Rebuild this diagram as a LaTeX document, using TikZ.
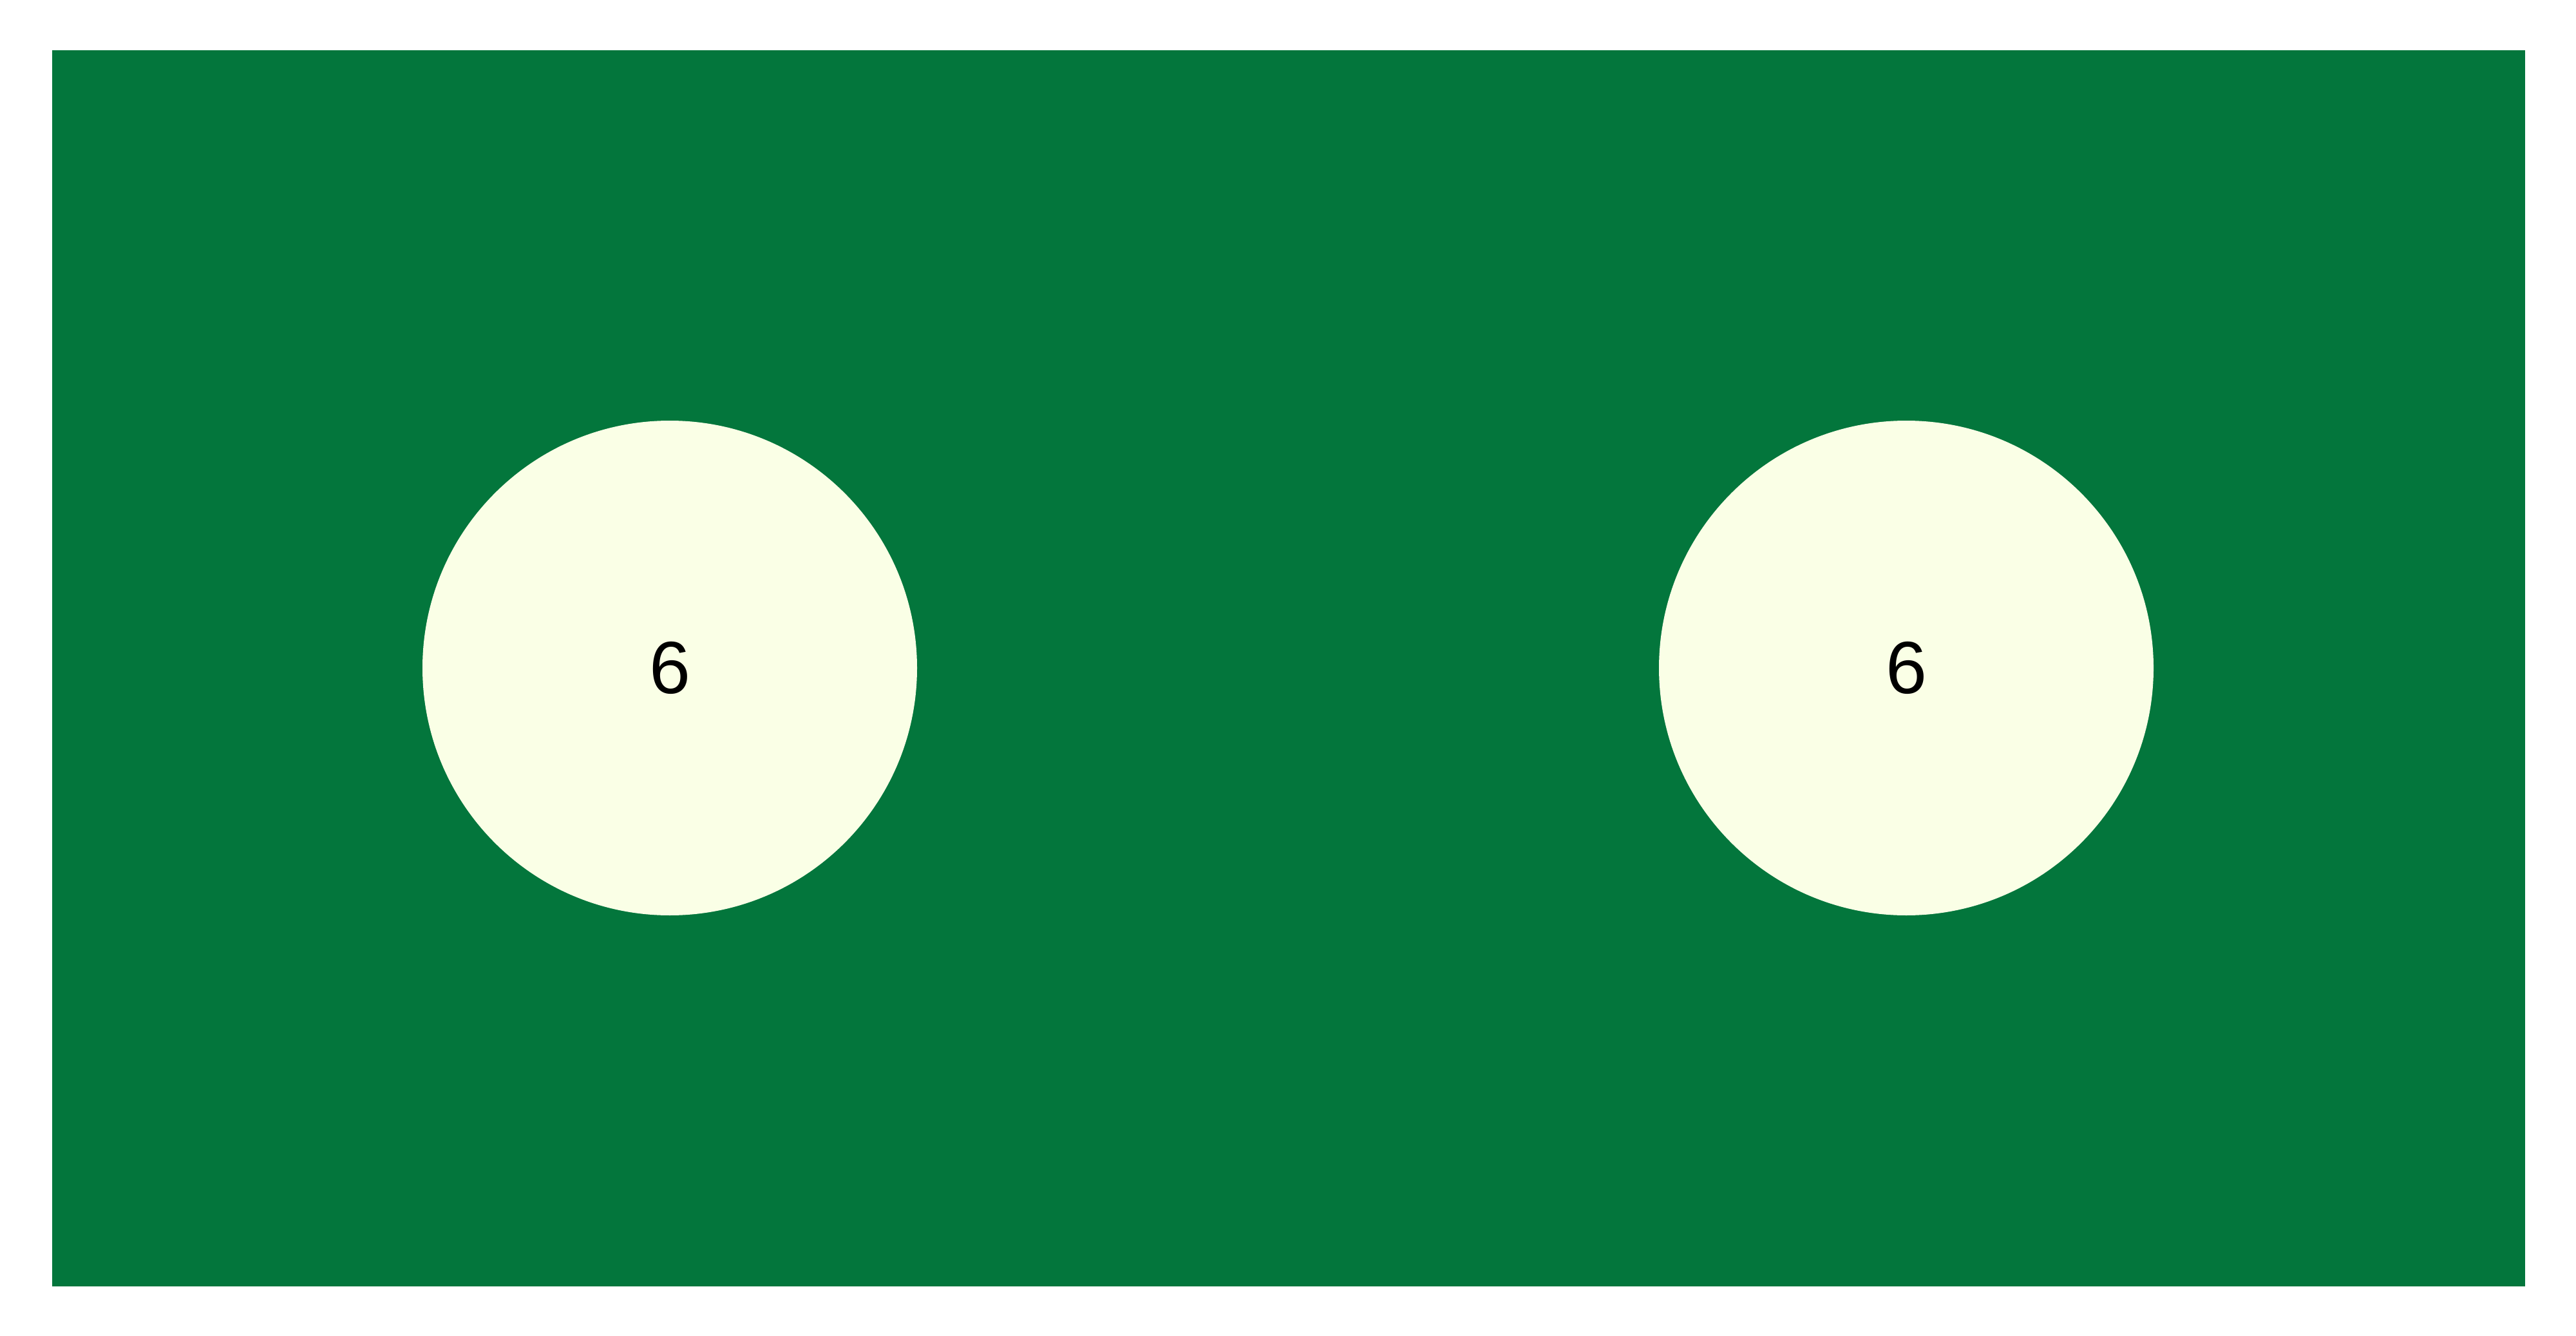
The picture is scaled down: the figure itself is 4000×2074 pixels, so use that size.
\documentclass[tikz,border=0pt]{standalone}
\usepackage{fontspec}
\setmainfont{Liberation Sans}
\definecolor{bggreen}{RGB}{3,118,60}
\definecolor{cream}{RGB}{250,255,230}
\begin{document}
\begin{tikzpicture}[x=0.1mm,y=-0.1mm,
  disc/.style={circle,fill=cream,draw=none,minimum size=76.8mm,inner sep=0pt,
    font=\fontsize{32.7pt}{39pt}\selectfont,text=black}]
\useasboundingbox (0,0) rectangle (4000,2074);
\fill[white] (0,0) rectangle (4000,2074);
\node[fill=bggreen,draw=none,minimum width=384mm,minimum height=191.9mm,inner sep=0pt,anchor=north west] (panel) at (80,77) {};
\node[disc] (c1) at (1040,1037) {6};
\node[disc] (c2) at (2960,1037) {6};
\end{tikzpicture}
\end{document}
